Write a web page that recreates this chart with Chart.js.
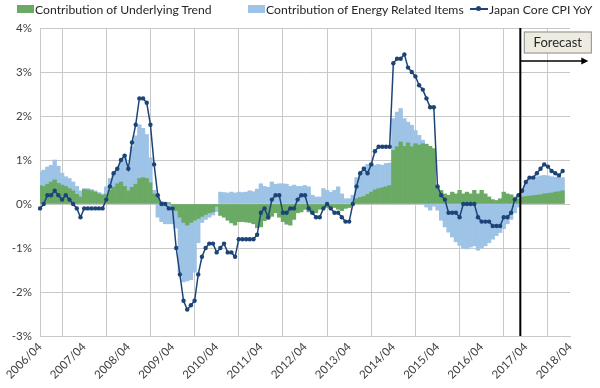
<!DOCTYPE html>
<html>
<head>
<meta charset="utf-8">
<script src="https://cdn.jsdelivr.net/npm/chart.js@4.4.1/dist/chart.umd.min.js"></script>
<style>
  html, body { margin: 0; padding: 0; background: #fff; }
  #wrap { position: relative; width: 600px; height: 388px; font-family: Lato, "Open Sans", sans-serif; color: #262626; }
  #legend { position: absolute; left: 0; top: 0; width: 600px; height: 20px; font-size: 12.2px; z-index: 2; }
  .item { position: absolute; top: 1px; height: 16px; display: flex; align-items: center; white-space: nowrap; }
  .sw { width: 17px; height: 8px; margin-right: 1px; }
  .ln { position: relative; width: 18px; height: 10px; margin-right: 1px; }
  .ln::before { content: ""; position: absolute; left: 0; right: 0; top: 4px; height: 1.5px; background: #1d4477; }
  .ln::after { content: ""; position: absolute; left: 6px; top: 2px; width: 5px; height: 5px; border-radius: 50%; background: #1d4477; }
  #chartBox { position: absolute; left: 0; top: 0; width: 600px; height: 388px; }
</style>
</head>
<body>
<div id="wrap">
  <div id="legend">
    <div class="item" style="left:17px"><span class="sw" style="background:#6aaa64"></span>Contribution of Underlying Trend</div>
    <div class="item" style="left:248px"><span class="sw" style="background:#9dc3e6"></span>Contribution of Energy Related Items</div>
    <div class="item" style="left:470px"><span class="ln"></span>Japan Core CPI YoY</div>
  </div>
  <div id="chartBox"><canvas id="cpiChart"></canvas></div>
</div>
<script>
// year ticks shown on the x axis
const tickLabels = ["2006/04", "2007/04", "2008/04", "2009/04", "2010/04", "2011/04", "2012/04",
  "2013/04", "2014/04", "2015/04", "2016/04", "2017/04", "2018/04"];

// monthly categories 2006/04 .. 2018/04
const months = [];
for (let y = 2006; y <= 2018; y++) {
  for (let m = 1; m <= 12; m++) {
    if ((y === 2006 && m < 4) || (y === 2018 && m > 4)) continue;
    months.push(y + "/" + String(m).padStart(2, "0"));
  }
}

// contribution of underlying trend (% pts), 2006/04 .. 2018/02
const trend = [
  0.42, 0.40, 0.45, 0.50, 0.55, 0.47, 0.43, 0.40, 0.35, 0.30, 0.22, 0.16,
  0.33, 0.32, 0.30, 0.27, 0.23, 0.20, 0.22, 0.31, 0.38, 0.46, 0.50, 0.40,
  0.30, 0.38, 0.45, 0.58, 0.60, 0.58, 0.48, 0.23, 0.15, 0.05, 0.04, 0.03,
  -0.03, -0.15, -0.30, -0.42, -0.48, -0.42, -0.37, -0.33, -0.28, -0.24, -0.20, -0.18,
  -0.05, -0.26, -0.30, -0.37, -0.43, -0.48, -0.40, -0.40, -0.41, -0.42, -0.45, -0.54,
  -0.52, -0.38, -0.35, -0.28, -0.20, -0.30, -0.40, -0.46, -0.48, -0.35, -0.20, -0.18,
  -0.12, -0.18, -0.22, -0.20, -0.12, -0.08, -0.08, -0.10, -0.08, -0.12, -0.15, -0.10,
  -0.08, 0.02, 0.12, 0.15, 0.17, 0.22, 0.27, 0.32, 0.35, 0.37, 0.39, 0.42,
  1.22, 1.30, 1.41, 1.31, 1.39, 1.30, 1.37, 1.34, 1.37, 1.36, 1.31, 1.26,
  0.40, 0.31, 0.23, 0.20, 0.27, 0.23, 0.31, 0.23, 0.27, 0.23, 0.31, 0.23,
  0.31, 0.23, 0.16, 0.10, 0.08, 0.12, 0.27, 0.23, 0.21, 0.16, 0.12, 0.16,
  0.17, 0.18, 0.19, 0.20, 0.21, 0.23, 0.24, 0.25, 0.27, 0.28, 0.30
];

// contribution of energy related items (% pts)
const energy = [
  0.31, 0.37, 0.39, 0.38, 0.45, 0.39, 0.27, 0.22, 0.23, 0.20, 0.18, 0.14,
  0.02, 0.03, 0.03, 0.03, 0.03, 0.03, 0.17, 0.27, 0.32, 0.34, 0.45, 0.70,
  0.47, 0.92, 1.10, 1.22, 1.12, 1.00, 0.57, 0.08, -0.30, -0.40, -0.45, -0.45,
  -0.42, -0.40, -1.25, -1.35, -1.27, -1.30, -1.18, -0.55, -0.14, -0.11, -0.10, -0.07,
  -0.12, 0.27, 0.26, 0.25, 0.27, 0.25, 0.27, 0.26, 0.27, 0.30, 0.28, 0.34,
  0.46, 0.40, 0.38, 0.50, 0.45, 0.46, 0.46, 0.45, 0.40, 0.43, 0.40, 0.40,
  0.42, 0.39, 0.20, 0.16, 0.16, 0.35, 0.31, 0.27, 0.31, 0.39, 0.23, 0.12,
  0.12, 0.18, 0.48, 0.55, 0.67, 0.68, 0.66, 0.56, 0.55, 0.51, 0.53, 0.51,
  0.72, 0.79, 0.76, 0.63, 0.47, 0.49, 0.30, 0.22, 0.08, -0.07, -0.14, -0.05,
  -0.14, -0.37, -0.52, -0.64, -0.75, -0.86, -0.94, -1.00, -1.02, -0.98, -0.95, -1.05,
  -1.00, -0.95, -0.88, -0.80, -0.72, -0.65, -0.56, -0.45, -0.35, -0.20, -0.07, 0.15,
  0.29, 0.37, 0.39, 0.42, 0.43, 0.42, 0.40, 0.37, 0.34, 0.32, 0.30
];

// Japan core CPI, YoY %
const coreCpi = [
  -0.1, 0.0, 0.2, 0.2, 0.3, 0.2, 0.1, 0.2, 0.1, 0.0, -0.1, -0.3,
  -0.1, -0.1, -0.1, -0.1, -0.1, -0.1, 0.1, 0.4, 0.7, 0.8, 1.0, 1.1,
  0.8, 1.4, 1.8, 2.4, 2.4, 2.3, 1.8, 0.9, 0.2, 0.0, 0.0, -0.1,
  -0.1, -1.0, -1.6, -2.2, -2.4, -2.3, -2.2, -1.6, -1.2, -1.0, -0.9, -0.9,
  -1.1, -1.0, -0.9, -1.1, -1.1, -1.2, -0.8, -0.8, -0.8, -0.8, -0.8, -0.7,
  -0.2, -0.1, -0.3, 0.1, 0.2, 0.2, -0.2, -0.2, -0.1, -0.1, 0.1, 0.2,
  0.2, -0.1, -0.2, -0.3, -0.3, -0.1, 0.0, -0.1, -0.2, -0.2, -0.3, -0.4,
  -0.4, 0.0, 0.4, 0.7, 0.8, 0.7, 0.9, 1.2, 1.3, 1.3, 1.3, 1.3,
  3.2, 3.3, 3.3, 3.4, 3.1, 3.0, 2.9, 2.7, 2.6, 2.4, 2.2, 2.2,
  0.4, 0.2, 0.1, -0.2, -0.2, -0.2, -0.3, 0.0, 0.0, 0.0, 0.0, -0.3,
  -0.4, -0.4, -0.4, -0.5, -0.5, -0.5, -0.3, -0.3, -0.2, 0.1, 0.2, 0.3,
  0.5, 0.6, 0.6, 0.7, 0.8, 0.9, 0.85, 0.75, 0.7, 0.65, 0.75
];

// forecast starts half a month before this category
const forecastFrom = "2017/03";

const forecastMarker = {
  id: "forecastMarker",
  afterDatasetsDraw(chart) {
    const { ctx, chartArea, scales } = chart;
    const x = scales.x.getPixelForValue(months.indexOf(forecastFrom) - 0.5);
    const top = chartArea.top;
    ctx.save();
    ctx.strokeStyle = "#000";
    ctx.lineWidth = 2;
    ctx.beginPath();
    ctx.moveTo(x, top);
    ctx.lineTo(x, chartArea.bottom);
    ctx.stroke();

    // arrow to the right
    const ay = top + 33;
    ctx.lineWidth = 1.5;
    ctx.beginPath();
    ctx.moveTo(x, ay);
    ctx.lineTo(x + 63, ay);
    ctx.stroke();
    ctx.fillStyle = "#000";
    ctx.beginPath();
    ctx.moveTo(x + 68, ay);
    ctx.lineTo(x + 61, ay - 3.5);
    ctx.lineTo(x + 61, ay + 3.5);
    ctx.closePath();
    ctx.fill();

    // label box
    const bx = x + 3.5, by = top + 3.5, bw = 68, bh = 22;
    ctx.fillStyle = "#eeece1";
    ctx.fillRect(bx, by, bw, bh);
    ctx.strokeStyle = "#8c8c8c";
    ctx.lineWidth = 1;
    ctx.strokeRect(bx + 0.5, by + 0.5, bw - 1, bh - 1);
    ctx.fillStyle = "#262626";
    ctx.font = "13px Lato, 'Open Sans', sans-serif";
    ctx.textAlign = "center";
    ctx.textBaseline = "middle";
    ctx.fillText("Forecast", bx + bw / 2, by + bh / 2 + 0.5);
    ctx.restore();
  }
};

const gridColor = "#c8c8c8";
const tickFont = { family: "Lato, 'Open Sans', sans-serif", size: 11.5 };

new Chart(document.getElementById("cpiChart"), {
  data: {
    labels: months,
    datasets: [
      {
        type: "bar",
        label: "Contribution of Underlying Trend",
        data: trend,
        backgroundColor: "#6aaa64",
        stack: "contrib",
        order: 1,
        barPercentage: 1,
        categoryPercentage: 1,
        borderWidth: 0
      },
      {
        type: "bar",
        label: "Contribution of Energy Related Items",
        data: energy,
        backgroundColor: "#9dc3e6",
        stack: "contrib",
        order: 2,
        barPercentage: 1,
        categoryPercentage: 1,
        borderWidth: 0
      },
      {
        type: "line",
        label: "Japan Core CPI YoY",
        data: coreCpi,
        stack: "cpi",
        order: 0,
        borderColor: "#1d4477",
        backgroundColor: "#1d4477",
        borderWidth: 1.5,
        pointRadius: 2.2,
        pointHoverRadius: 2.2,
        pointBorderWidth: 0,
        tension: 0,
        fill: false
      }
    ]
  },
  options: {
    responsive: true,
    maintainAspectRatio: false,
    animation: false,
    layout: { padding: { top: 28, right: 30, left: 0, bottom: 0 } },
    plugins: {
      legend: { display: false },
      tooltip: { enabled: false }
    },
    scales: {
      x: {
        type: "category",
        stacked: true,
        offset: false,
        grid: { color: gridColor, drawTicks: false },
        border: { color: gridColor },
        ticks: {
          autoSkip: false,
          maxRotation: 45,
          minRotation: 45,
          padding: 4,
          color: "#404040",
          font: tickFont,
          callback(value, i) {
            const lab = months[i];
            return tickLabels.includes(lab) ? lab : null;
          }
        },
        afterFit(scale) { scale.height = 52; }
      },
      y: {
        stacked: true,
        min: -3,
        max: 4,
        grid: { color: gridColor, drawTicks: false },
        border: { color: gridColor },
        ticks: {
          stepSize: 1,
          padding: 8,
          color: "#404040",
          font: tickFont,
          callback: v => v + "%"
        },
        afterFit(scale) { scale.width = 40; }
      }
    }
  },
  plugins: [forecastMarker]
});
</script>
</body>
</html>
